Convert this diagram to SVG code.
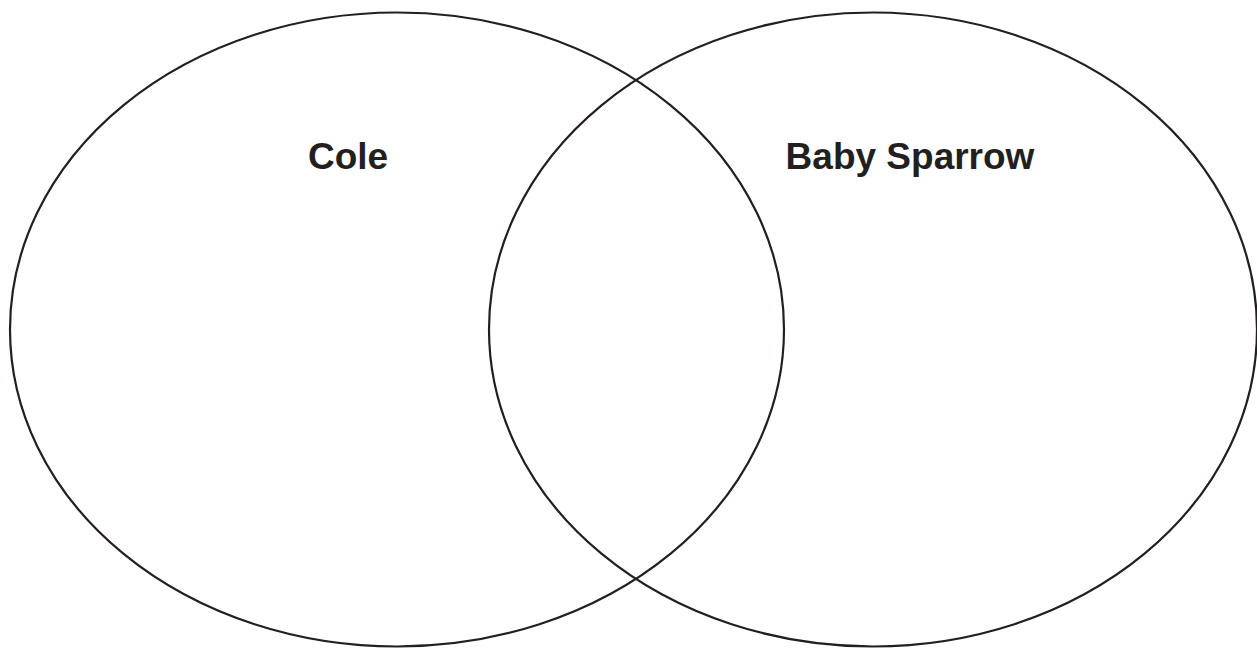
<svg xmlns="http://www.w3.org/2000/svg" width="1257" height="648" viewBox="0 0 1257 648">
<style>
.set{fill:none;stroke:#231f20;stroke-width:2.2}
.lbl{font-family:"Liberation Sans",Arial,sans-serif;font-weight:bold;font-size:37px;fill:#231f20;text-anchor:middle}
</style>
<rect width="1257" height="648" fill="#ffffff"/>
<g id="cole">
<ellipse class="set" cx="397" cy="329.5" rx="387" ry="317"/>
<text class="lbl" x="348" y="168.5">Cole</text>
</g>
<g id="baby-sparrow">
<ellipse class="set" cx="873" cy="329.5" rx="384" ry="317"/>
<text class="lbl" x="910" y="168.5">Baby Sparrow</text>
</g>
<g id="connectors"></g>
</svg>
